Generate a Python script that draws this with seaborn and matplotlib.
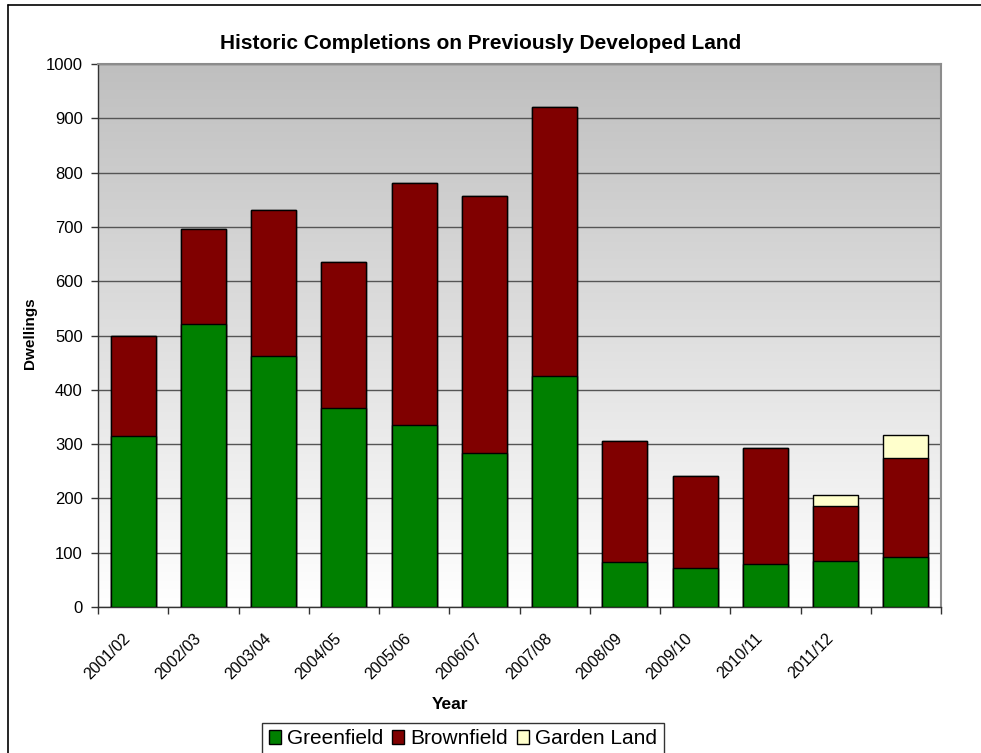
import numpy as np
import pandas as pd
import matplotlib
matplotlib.use("Agg")
import matplotlib.pyplot as plt
from matplotlib.patches import Patch
from matplotlib.lines import Line2D
import seaborn as sns

# ---- data ----
years = ["2001/02", "2002/03", "2003/04", "2004/05", "2005/06", "2006/07",
         "2007/08", "2008/09", "2009/10", "2010/11", "2011/12", ""]
greenfield = [315, 522, 462, 366, 335, 283, 425, 82, 71, 80, 85, 92]
brownfield = [185, 175, 269, 269, 446, 474, 496, 224, 170, 213, 101, 182]
garden_land = [0, 0, 0, 0, 0, 0, 0, 0, 0, 0, 21, 43]
y_ticks = [0, 100, 200, 300, 400, 500, 600, 700, 800, 900, 1000]

series_names = ["Greenfield", "Brownfield", "Garden Land"]
colors = {"Greenfield": "#008000", "Brownfield": "#800000", "Garden Land": "#FFFFCC"}

sns.set_theme(style="white")
plt.rcParams["font.family"] = ["Liberation Sans", "DejaVu Sans"]
plt.rcParams["text.color"] = "black"

pos = list(range(len(years)))
df = pd.DataFrame({
    "pos": pos,
    "Greenfield": greenfield,
    "Brownfield": brownfield,
    "Garden Land": garden_land,
})
# cumulative tops for layered (stacked-looking) bars
df["top_green"] = df["Greenfield"]
df["top_brown"] = df["top_green"] + df["Brownfield"]
df["top_garden"] = df["top_brown"] + df["Garden Land"]

fig = plt.figure(figsize=(9.81, 7.53), dpi=100)
ax = fig.add_axes([98 / 981, 1 - 607 / 753, (941 - 98) / 981, (607 - 64) / 753])

# vertical gradient behind the bars: grey at top fading to white
grad = np.linspace(0, 1, 256).reshape(-1, 1)
ax.imshow(grad, extent=[0, 1, 0, 1], transform=ax.transAxes, aspect="auto",
          cmap=matplotlib.colors.LinearSegmentedColormap.from_list(
              "bg", ["#ffffff", "#bfbfbf"]),
          origin="lower", zorder=0)

bar_w = 0.64
for col, name in [("top_garden", "Garden Land"), ("top_brown", "Brownfield"),
                  ("top_green", "Greenfield")]:
    sns.barplot(data=df, x="pos", y=col, color=colors[name], saturation=1,
                width=bar_w, edgecolor="black", linewidth=1.0, ax=ax,
                native_scale=True, zorder=3)

ax.set_xlim(-0.5, len(years) - 0.5)
ax.set_ylim(0, 1000)
ax.set_yticks(y_ticks)
ax.set_yticklabels([str(v) for v in y_ticks], fontsize=12, color="black")
ax.yaxis.grid(True, color="#555555", linewidth=1.0, zorder=1)
ax.xaxis.grid(False)
ax.set_axisbelow(True)

# category labels just left of bar centres, tick marks at category boundaries
label_offset = 0.07
ax.set_xticks([p - label_offset for p in pos])
ax.set_xticklabels(years, rotation=45, ha="right", va="center",
                   rotation_mode="anchor", fontsize=11.5, color="black")
ax.tick_params(axis="x", which="major", length=0, pad=21)
ax.set_xticks(np.arange(-0.5, len(years), 1.0), minor=True)
ax.tick_params(axis="x", which="minor", length=5, width=1, color="#333333",
               direction="out", bottom=True)
ax.tick_params(axis="y", length=5, width=1, color="#333333", direction="out",
               left=True, pad=6)

for side in ["top", "right"]:
    ax.spines[side].set_color("#8c8c8c")
    ax.spines[side].set_linewidth(1.5)
for side in ["left", "bottom"]:
    ax.spines[side].set_color("#333333")
    ax.spines[side].set_linewidth(1.0)

ax.set_xlabel("Year", fontsize=12.5, fontweight="bold", color="black")
ax.xaxis.set_label_coords((450 - 98) / 843, (607 - 697) / 543)
ax.set_ylabel("Dwellings", fontsize=11, fontweight="bold", color="black")
ax.yaxis.set_label_coords((37 - 98) / 843, (607 - 333) / 543)
ax.set_title("Historic Completions on Previously Developed Land",
             fontsize=15, fontweight="bold", pad=11, color="black",
             x=(481 - 98) / 843)

handles = [Patch(facecolor=colors[n], edgecolor="black", linewidth=1.0, label=n)
           for n in series_names]
leg = fig.legend(handles=handles, loc="upper center",
                 bbox_to_anchor=(463 / 981, 1 - 723 / 753), ncol=3,
                 frameon=True, fancybox=False, edgecolor="black",
                 fontsize=15, handlelength=0.6, handleheight=0.6,
                 handletextpad=0.3, columnspacing=0.4, borderpad=0.3,
                 borderaxespad=0)
leg.get_frame().set_linewidth(1.0)

# chart-area border
fig.add_artist(Line2D([8 / 981, 8 / 981], [0, 1 - 5 / 753], color="black",
                      linewidth=1.2, transform=fig.transFigure))
fig.add_artist(Line2D([8 / 981, 1], [1 - 5 / 753, 1 - 5 / 753], color="black",
                      linewidth=1.2, transform=fig.transFigure))

fig.savefig("out.png", dpi=100)
